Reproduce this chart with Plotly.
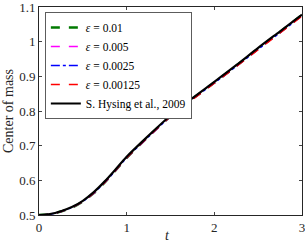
import plotly.graph_objects as go

t = [0, 0.125, 0.25, 0.375, 0.5, 0.625, 0.75, 0.875, 1.0, 1.25, 1.5, 1.75, 2.0, 2.25, 2.5, 2.75, 3.0]
hysing = [0.500, 0.503, 0.511, 0.523, 0.541, 0.566, 0.597, 0.632, 0.668, 0.729, 0.787, 0.837, 0.884, 0.932, 0.982, 1.030, 1.078]
eps_001 = [0.500, 0.502, 0.510, 0.521, 0.539, 0.563, 0.594, 0.629, 0.665, 0.727, 0.785, 0.835, 0.882, 0.930, 0.980, 1.028, 1.077]
eps_0005 = [0.500, 0.502, 0.510, 0.521, 0.539, 0.563, 0.594, 0.629, 0.665, 0.726, 0.784, 0.834, 0.881, 0.929, 0.979, 1.027, 1.076]
eps_00025 = [0.500, 0.502, 0.510, 0.522, 0.539, 0.564, 0.594, 0.629, 0.665, 0.726, 0.784, 0.834, 0.881, 0.929, 0.978, 1.026, 1.075]
eps_000125 = [0.500, 0.502, 0.510, 0.522, 0.539, 0.564, 0.594, 0.629, 0.665, 0.726, 0.784, 0.833, 0.880, 0.928, 0.977, 1.025, 1.074]

names = ["<i>ε</i> = 0.01", "<i>ε</i> = 0.005", "<i>ε</i> = 0.0025", "<i>ε</i> = 0.00125", "S. Hysing et al., 2009"]
series = [eps_001, eps_0005, eps_00025, eps_000125, hysing]
colors = ["#007a00", "#ff00ff", "#0000ff", "#ff0000", "#000000"]
dashes = ["dash", "dash", "dashdot", "dash", "solid"]
widths = [2.5, 1.5, 1.5, 1.5, 2.2]

xticks = [0, 1, 2, 3]
yticks = [0.5, 0.6, 0.7, 0.8, 0.9, 1.0, 1.1]
yticklabels = ["0.5", "0.6", "0.7", "0.8", "0.9", "1", "1.1"]

fig = go.Figure()
for y, n, c, d, w in zip(series, names, colors, dashes, widths):
    fig.add_trace(go.Scatter(x=t, y=y, mode="lines", name=n, line_shape="spline",
                             line=dict(color=c, dash=d, width=w, smoothing=0.8)))

font = "Liberation Serif, Times New Roman, serif"
fig.update_layout(
    width=305, height=249,
    margin=dict(l=39, r=3, t=7, b=34),
    paper_bgcolor="white", plot_bgcolor="white",
    font=dict(family=font, size=13, color="#262626"),
    showlegend=True,
    legend=dict(x=0.023, y=0.975, xanchor="left", yanchor="top",
                bgcolor="white", bordercolor="#333333", borderwidth=0.8,
                font=dict(family=font, size=11.5, color="#000000"),
                tracegroupgap=0, itemwidth=30),
    xaxis=dict(range=[0, 3], tickvals=xticks, ticks="inside", ticklen=3,
               showline=True, linecolor="#262626", linewidth=0.8, mirror="ticks",
               showgrid=False, zeroline=False, automargin=False,
               ticklabeloverflow="allow"),
    yaxis=dict(range=[0.5, 1.1], tickvals=yticks, ticktext=yticklabels, ticks="inside", ticklen=3,
               showline=True, linecolor="#262626", linewidth=0.8, mirror="ticks",
               showgrid=False, zeroline=False, automargin=False,
               ticklabeloverflow="allow",
               title=dict(text="Center of mass", standoff=2, font=dict(size=14))),
    annotations=[dict(text="<i>t</i>", xref="paper", yref="paper", x=0.49, y=-0.097,
                      xanchor="center", yanchor="middle", showarrow=False,
                      font=dict(family=font, size=14, color="#262626"))],
)

fig.write_html("out.html", config={"displayModeBar": False},
               post_script="document.body.style.margin='0';document.body.style.overflow='hidden';")
